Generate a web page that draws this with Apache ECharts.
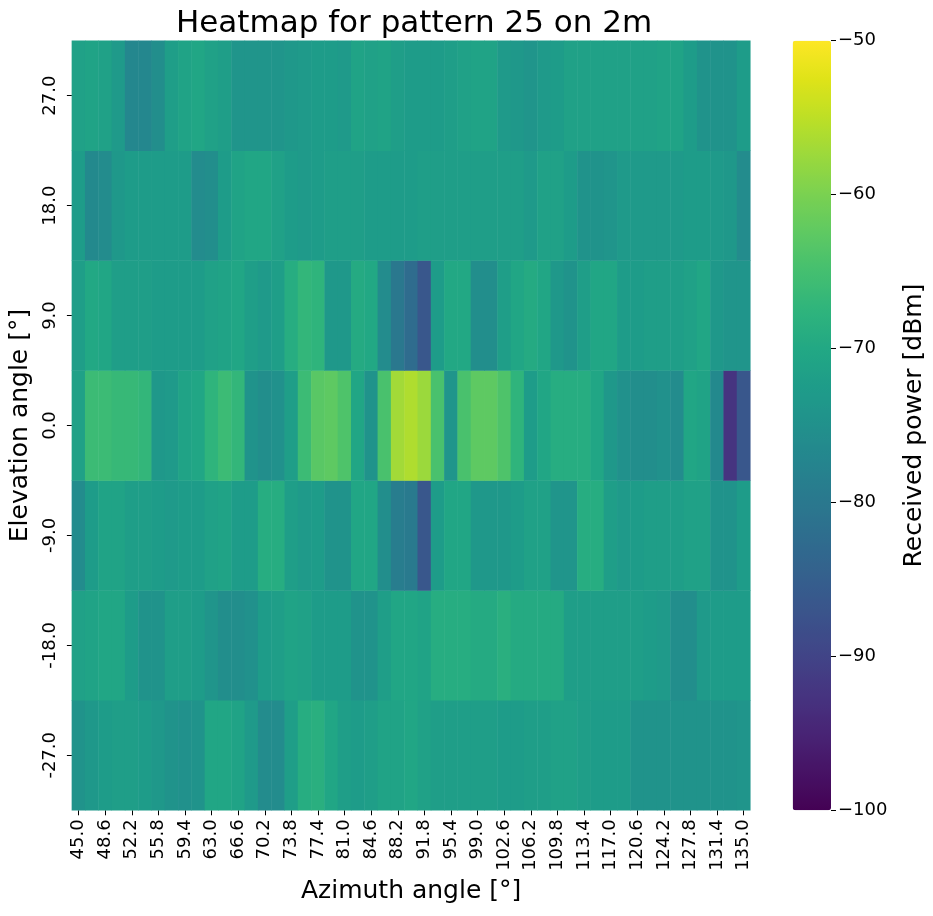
<!DOCTYPE html>
<html>
<head>
<meta charset="utf-8">
<script src="https://cdn.jsdelivr.net/npm/echarts@6/dist/echarts.min.js"></script>
<style>
  html, body { margin: 0; padding: 0; background: #fff; }
  #chart { width: 933px; height: 916px; }
</style>
</head>
<body>
<div id="chart"></div>
<script>
// azimuth columns (every 1.8 deg), elevation rows bottom -> top
var azimuth = ['45.0', '46.8', '48.6', '50.4', '52.2', '54.0', '55.8', '57.6', '59.4', '61.2',
  '63.0', '64.8', '66.6', '68.4', '70.2', '72.0', '73.8', '75.6', '77.4', '79.2',
  '81.0', '82.8', '84.6', '86.4', '88.2', '90.0', '91.8', '93.6', '95.4', '97.2',
  '99.0', '100.8', '102.6', '104.4', '106.2', '108.0', '109.8', '111.6', '113.4', '115.2',
  '117.0', '118.8', '120.6', '122.4', '124.2', '126.0', '127.8', '129.6', '131.4', '133.2',
  '135.0'];
var elevation = ['-27.0', '-18.0', '-9.0', '0.0', '9.0', '18.0', '27.0'];
var colorTicks = [-100, -90, -80, -70, -60, -50];

// received power [dBm], one list per elevation row
var powerM27 = [-74.5, -73.5, -72.5, -72, -72, -72.5, -73.5, -74.5, -75, -74.5,
  -70.5, -70.5, -71, -73, -76, -76, -72, -69, -68.5, -70.5,
  -72, -72.5, -72, -71, -71, -70.5, -71.5, -72, -72, -72,
  -72, -72, -72.5, -72.5, -72, -72, -71.5, -71.5, -72, -72.5,
  -72.5, -72.5, -74.5, -74.5, -74.5, -74.5, -74.5, -74.5, -74.5, -74.5,
  -74];
var powerM18 = [-71.5, -71, -70.5, -70.5, -72.5, -74.5, -74.5, -72, -72, -72.5,
  -74, -75.5, -75.5, -75, -72.5, -72, -71, -71.5, -72.5, -72.5,
  -72.5, -74.5, -74.5, -72, -70.5, -70.5, -71, -69, -69, -69,
  -69.5, -69.5, -68.5, -69.5, -69.5, -69.5, -69.5, -72, -72, -72,
  -72, -72, -72, -72.5, -73, -75.5, -75.5, -73, -72.5, -72.5,
  -72.5];
var powerM9 = [-76, -72.5, -71, -71, -72, -72, -72.5, -73, -72.5, -72.5,
  -71.5, -71, -72.5, -72.5, -69, -69, -72, -73, -72.5, -74.5,
  -74.5, -70.5, -70.5, -75.5, -79, -79.5, -86.5, -72.5, -70.5, -70.5,
  -73.5, -73.5, -73.5, -72.5, -71.5, -71.5, -74, -74, -69, -69,
  -72, -73, -72.5, -72, -72, -72, -71.5, -71.5, -74.5, -74.5,
  -72.5];
var power0 = [-71.5, -66, -66, -66.5, -66.5, -67, -73.5, -73, -71, -70.5,
  -67.5, -66, -67, -74.5, -75.5, -75, -72, -66, -63, -62.5,
  -64, -70.5, -74.5, -64.5, -57, -56, -57.5, -64.5, -74, -64.5,
  -62.5, -62.5, -64, -67.5, -72.5, -70.5, -69, -69, -69, -70.5,
  -73.5, -75, -75.5, -75.5, -75, -76, -70.5, -71, -76.5, -92.5,
  -86.5];
var power9 = [-72, -70, -70.5, -72, -72, -72, -72.5, -72.5, -72.5, -72.5,
  -71.5, -71, -70.5, -72, -73, -72, -69, -67, -67.5, -73.5,
  -73.5, -69.5, -70, -76, -80, -82.5, -86.5, -72.5, -70, -70,
  -75.5, -75.5, -72, -70.5, -69.5, -70.5, -73.5, -74.5, -72, -70.5,
  -70.5, -72.5, -72.5, -72, -72, -72, -71.5, -70.5, -73.5, -74,
  -74];
var power18 = [-72.5, -76.5, -76, -73.5, -72.5, -72.5, -72.5, -72.5, -72.5, -76,
  -75.5, -72.5, -71, -70.5, -70.5, -71.5, -72.5, -73, -72.5, -72,
  -72, -72, -72.5, -72.5, -72.5, -72.5, -72, -72, -72, -72,
  -72, -72, -72, -72, -73, -71.5, -71.5, -72.5, -74.5, -74.5,
  -74, -73, -73, -73, -73, -73, -72.5, -72.5, -73, -73.5,
  -76];
var power27 = [-71.5, -71, -71.5, -73, -77, -77, -75.5, -72, -71, -70.5,
  -71.5, -72, -74, -74, -74, -74, -73.5, -73, -72.5, -72.5,
  -73, -71, -71.5, -71, -72, -72.5, -72.5, -72.5, -72, -71.5,
  -71, -71, -73, -73.5, -74, -73, -72.5, -71.5, -71.5, -71.5,
  -71.5, -71.5, -71.5, -71.5, -71, -71, -72.5, -74.5, -74.5, -74.5,
  -72.5];

var rows = [powerM27, powerM18, powerM9, power0, power9, power18, power27];

var viridis = ['#440154', '#471365', '#482475', '#463480', '#414487', '#3b528b', '#355f8d',
  '#2f6c8e', '#2a788e', '#25848e', '#21918c', '#1e9c89', '#22a884', '#2fb47c', '#44bf70',
  '#5ec962', '#7ad151', '#9bd93c', '#bddf26', '#dfe318', '#fde725'];

var cells = [];
rows.forEach(function (row, y) {
  row.forEach(function (v, x) {
    cells.push([x, y, v]);
  });
});

var font = 'DejaVu Sans';
var chart = echarts.init(document.getElementById('chart'), null, { renderer: 'canvas' });

var option = {
  animation: false,
  backgroundColor: '#fff',
  textStyle: { fontFamily: font, color: '#000' },
  title: {
    text: 'Heatmap for pattern 25 on 2m',
    left: 409,
    textAlign: 'center',
    top: 3,
    textStyle: { fontFamily: font, fontSize: 31, fontWeight: 'normal', color: '#000' }
  },
  grid: [
    { left: 68.3, top: 40.7, width: 682, height: 769.6 },
    { left: 792.7, top: 40.7, width: 38.3, height: 769.6 }
  ],
  xAxis: [
    {
      type: 'category',
      gridIndex: 0,
      data: azimuth,
      name: 'Azimuth angle [°]',
      nameLocation: 'middle',
      nameGap: 66,
      nameTextStyle: { fontFamily: font, fontSize: 25, color: '#000' },
      axisLine: { show: false },
      axisTick: { show: true, alignWithLabel: true, interval: 1, length: 5, lineStyle: { color: '#000' } },
      axisLabel: { interval: 1, rotate: 90, margin: 9, fontFamily: font, fontSize: 18, color: '#000' },
      splitLine: { show: false }
    },
    {
      type: 'category',
      gridIndex: 1,
      data: [''],
      show: false
    }
  ],
  yAxis: [
    {
      type: 'category',
      gridIndex: 0,
      data: elevation,
      name: 'Elevation angle [°]',
      nameLocation: 'middle',
      nameRotate: 90,
      nameGap: 35,
      nameTextStyle: { fontFamily: font, fontSize: 25, color: '#000' },
      axisLine: { show: false },
      axisTick: { show: true, alignWithLabel: true, length: 5, lineStyle: { color: '#000' } },
      axisLabel: { rotate: 90, margin: 13, fontFamily: font, fontSize: 18, color: '#000' },
      splitLine: { show: false }
    },
    {
      type: 'value',
      gridIndex: 1,
      position: 'right',
      min: colorTicks[0],
      max: colorTicks[colorTicks.length - 1],
      interval: 10,
      name: 'Received power [dBm]',
      nameLocation: 'middle',
      nameRotate: 90,
      nameGap: 71,
      nameTextStyle: { fontFamily: font, fontSize: 25, color: '#000' },
      axisLine: { show: false },
      axisTick: { show: true, length: 5, lineStyle: { color: '#000' } },
      axisLabel: {
        margin: 7, fontFamily: font, fontSize: 18, color: '#000',
        formatter: function (v) { return String(v).replace('-', '\u2212'); }
      },
      splitLine: { show: false }
    }
  ],
  visualMap: {
    type: 'continuous',
    seriesIndex: 0,
    min: colorTicks[0],
    max: colorTicks[colorTicks.length - 1],
    orient: 'vertical',
    left: 792.7,
    top: 40.7,
    itemWidth: 38.3,
    itemHeight: 769.6,
    padding: 0,
    calculable: false,
    hoverLink: false,
    realtime: false,
    text: null,
    showLabel: false,
    inRange: { color: viridis }
  },
  series: [
    {
      type: 'heatmap',
      xAxisIndex: 0,
      yAxisIndex: 0,
      data: cells,
      emphasis: { disabled: true },
      itemStyle: { borderWidth: 0 }
    }
  ]
};

chart.setOption(option);
</script>
</body>
</html>
